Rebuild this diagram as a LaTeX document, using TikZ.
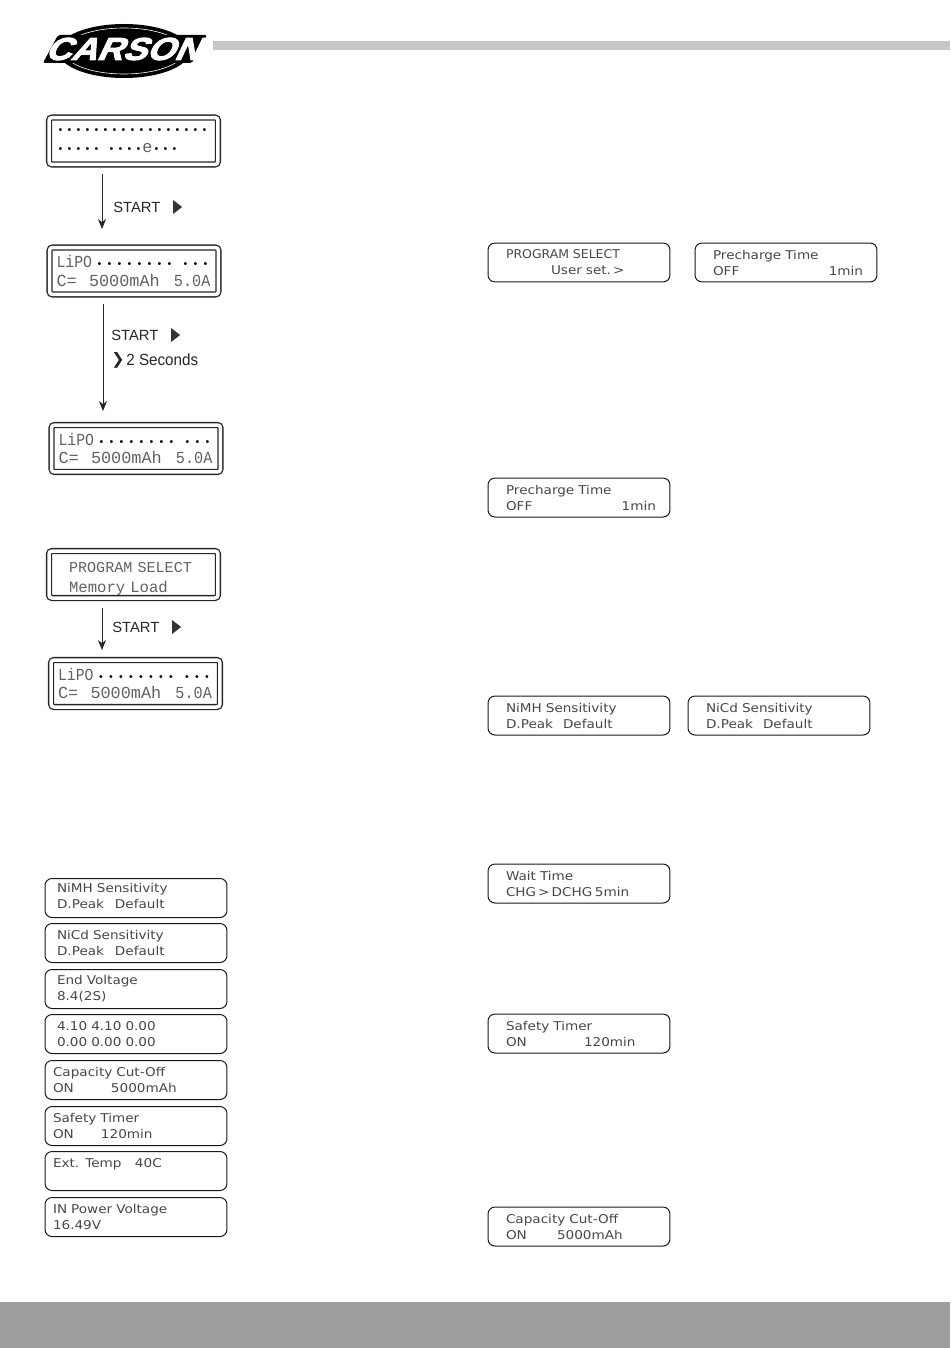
\documentclass[tikz,border=0pt]{standalone}
\usepackage{fontspec}
\usetikzlibrary{arrows.meta,shapes.geometric}
\setmainfont{Liberation Sans}
\newfontfamily\lcdmono{Liberation Mono}
\newfontfamily\lcdsans{DejaVu Sans}[FakeStretch=1.12]
\newfontfamily\symfont{DejaVu Sans}
\newfontfamily\logofont{Liberation Sans Bold}[FakeSlant=0.42]
\newlength{\dotpitch}
\setlength{\dotpitch}{0.2cm}
\newcommand{\lcddot}{\makebox[\dotpitch][c]{\textcolor{black}{\scalebox{0.62}{•}}}}
\newcommand{\dotrow}[1]{\foreach \i in {1,...,#1}{\lcddot}}
\newcommand{\lipoline}{\mbox{\makebox[0.76cm][l]{\scalebox{0.88}[1]{LiPO}}\dotrow{8}\hspace{0.12cm}\dotrow{3}}}
\newcommand{\chargeline}{\mbox{\makebox[0.65cm][l]{C=}\makebox[1.7cm][l]{5000mAh}\scalebox{0.9}[1]{5.0A}}}
\tikzset{
	lcdbox/.style={draw=black!85, line width=0.26mm, double=white, double distance=0.07cm, rounded corners=0.06cm,
		minimum width=3.38cm, minimum height=0.94cm, text width=3.1cm, align=left, inner sep=0pt,
		text=black!62, font=\lcdmono\fontsize{9.6}{10.7}\selectfont},
	rbox/.style={draw=black!90, line width=0.2mm, rounded corners=0.14cm,
		minimum width=3.64cm, minimum height=0.78cm, text width=3.56cm, align=left, inner sep=0pt,
		text=black!72, font=\lcdsans\fontsize{6.9}{9.1}\selectfont,
		execute at begin node={\leftskip=#1\relax}},
	keytext/.style={text=black!85, inner sep=0pt, font=\fontsize{8.4}{10}\selectfont},
	keymark/.style={isosceles triangle, isosceles triangle stretches, fill=black!80, inner sep=0pt,
		minimum width=0.28cm, minimum height=0.18cm},
	flow/.style={-{Stealth[length=0.2cm,width=0.16cm]}, line width=0.2mm, black!85},
	band/.style={fill=#1, draw=none}
}
\begin{document}
\begin{tikzpicture}[x=0.02cm,y=-0.02cm]
	\useasboundingbox (0,0) rectangle (950,1348);
	% bands
	\fill[band=black!22] (213,41) rectangle (950,50);
	\fill[band=black!38] (0,1302) rectangle (950,1348);
	% logo
	\fill[black] (124,51) ellipse [x radius=66, y radius=27];
	\draw[white, line width=0.12mm] (124,51) ellipse [x radius=60, y radius=23];
	\fill[black, rounded corners=0.04cm] (43,63) -- (58,35) -- (207,35) -- (192,63) -- cycle;
	\node[inner sep=0pt, xscale=1.13, text=white] (logo) at (122,49) {\logofont\fontsize{18}{19}\selectfont\special{pdf:code q 1 1 1 RG 2 Tr 0.5 w}CARSON\special{pdf:code Q}};
	% left column, displays
	\node[lcdbox] (lcd1) at (133.5,141) {\setlength{\dotpitch}{0.18cm}\mbox{\dotrow{17}}\\\mbox{\dotrow{5}\hspace{0.12cm}\dotrow{4}\makebox[\dotpitch][c]{e}\dotrow{3}}};
	\node[lcdbox] (lcd2) at (134,271) {\lipoline\\\chargeline};
	\node[lcdbox] (lcd3) at (136,448.5) {\lipoline\\\chargeline};
	\node[lcdbox, font=\lcdmono\fontsize{8.6}{11.3}\selectfont] (lcd4) at (133.5,574.5) {\rule{0pt}{0.37cm}\hspace*{0.26cm}PROGRAM SELECT\\\hspace*{0.26cm}{\fontsize{8.9}{11.3}\selectfont Memory Load}};
	\node[lcdbox] (lcd5) at (135.5,683.5) {\lipoline\\\chargeline};
	% arrows
	\coordinate (a1) at (102,174);
	\coordinate (a2) at (102,229);
	\coordinate (a3) at (103,304);
	\coordinate (a4) at (103,411);
	\coordinate (a5) at (102,608);
	\coordinate (a6) at (102,650);
	\draw[flow] (a1) -- (a2);
	\draw[flow] (a3) -- (a4);
	\draw[flow] (a5) -- (a6);
	\node[keytext, anchor=west] (k1) at (113,207) {START};
	\node[keymark] (m1) at (176.5,207) {};
	\node[keytext, anchor=west] (k2) at (111,335) {START};
	\node[keymark] (m2) at (174.5,335) {};
	\node[inner sep=0pt, text=black!85, font=\symfont\fontsize{9}{10}\selectfont] (m3) at (118,360) {❯};
	\node[keytext, anchor=west, font=\fontsize{9.2}{12}\selectfont] (k3) at (126,360) {\scalebox{0.94}[1]{2 Seconds}};
	\node[keytext, anchor=west] (k4) at (112,627) {START};
	\node[keymark] (m4) at (175.5,627) {};
	% left column, list
	\node[rbox=0.2cm, execute at end node={\vspace{0.08cm}}] (l1) at (136,898) {NiMH Sensitivity\\\makebox[1.16cm][l]{D.Peak}Default};
	\node[rbox=0.2cm] (l2) at (136,943) {NiCd Sensitivity\\\makebox[1.16cm][l]{D.Peak}Default};
	\node[rbox=0.2cm] (l3) at (136,989) {End Voltage\\8.4(2S)};
	\node[rbox=0.2cm] (l4) at (136,1034) {4.10 4.10 0.00\\0.00 0.00 0.00};
	\node[rbox=0.12cm] (l5) at (136,1080) {Capacity Cut-Off\\\makebox[1.16cm][l]{ON}5000mAh};
	\node[rbox=0.12cm] (l6) at (136,1126) {Safety Timer\\\makebox[0.96cm][l]{ON}120min};
	\node[rbox=0.12cm] (l7) at (136,1171) {\makebox[1.64cm][l]{Ext. Temp}40C\\\mbox{}};
	\node[rbox=0.12cm] (l8) at (136,1217) {IN Power Voltage\\16.49V};
	% right column
	\node[rbox=0.32cm] (r1) at (579,262.5) {\scalebox{0.92}[1]{PROGRAM SELECT}\\\hspace*{0.9cm}User set.\,>};
	\node[rbox=0.32cm] (r2) at (786,262.5) {Precharge Time\\OFF\hfill 1min\hspace*{0.24cm}};
	\node[rbox=0.32cm] (r3) at (579,497.5) {Precharge Time\\OFF\hfill 1min\hspace*{0.24cm}};
	\node[rbox=0.32cm] (r4) at (579,715.5) {NiMH Sensitivity\\\makebox[1.14cm][l]{D.Peak}Default};
	\node[rbox=0.32cm] (r5) at (779,715.5) {NiCd Sensitivity\\\makebox[1.14cm][l]{D.Peak}Default};
	\node[rbox=0.32cm] (r6) at (579,883.5) {Wait Time\\\makebox[1.78cm][l]{CHG\,>\,DCHG}5min};
	\node[rbox=0.32cm] (r7) at (579,1033.5) {Safety Timer\\\makebox[1.56cm][l]{ON}120min};
	\node[rbox=0.32cm] (r8) at (579,1226.5) {Capacity Cut-Off\\\makebox[1.02cm][l]{ON}5000mAh};
\end{tikzpicture}
\end{document}
